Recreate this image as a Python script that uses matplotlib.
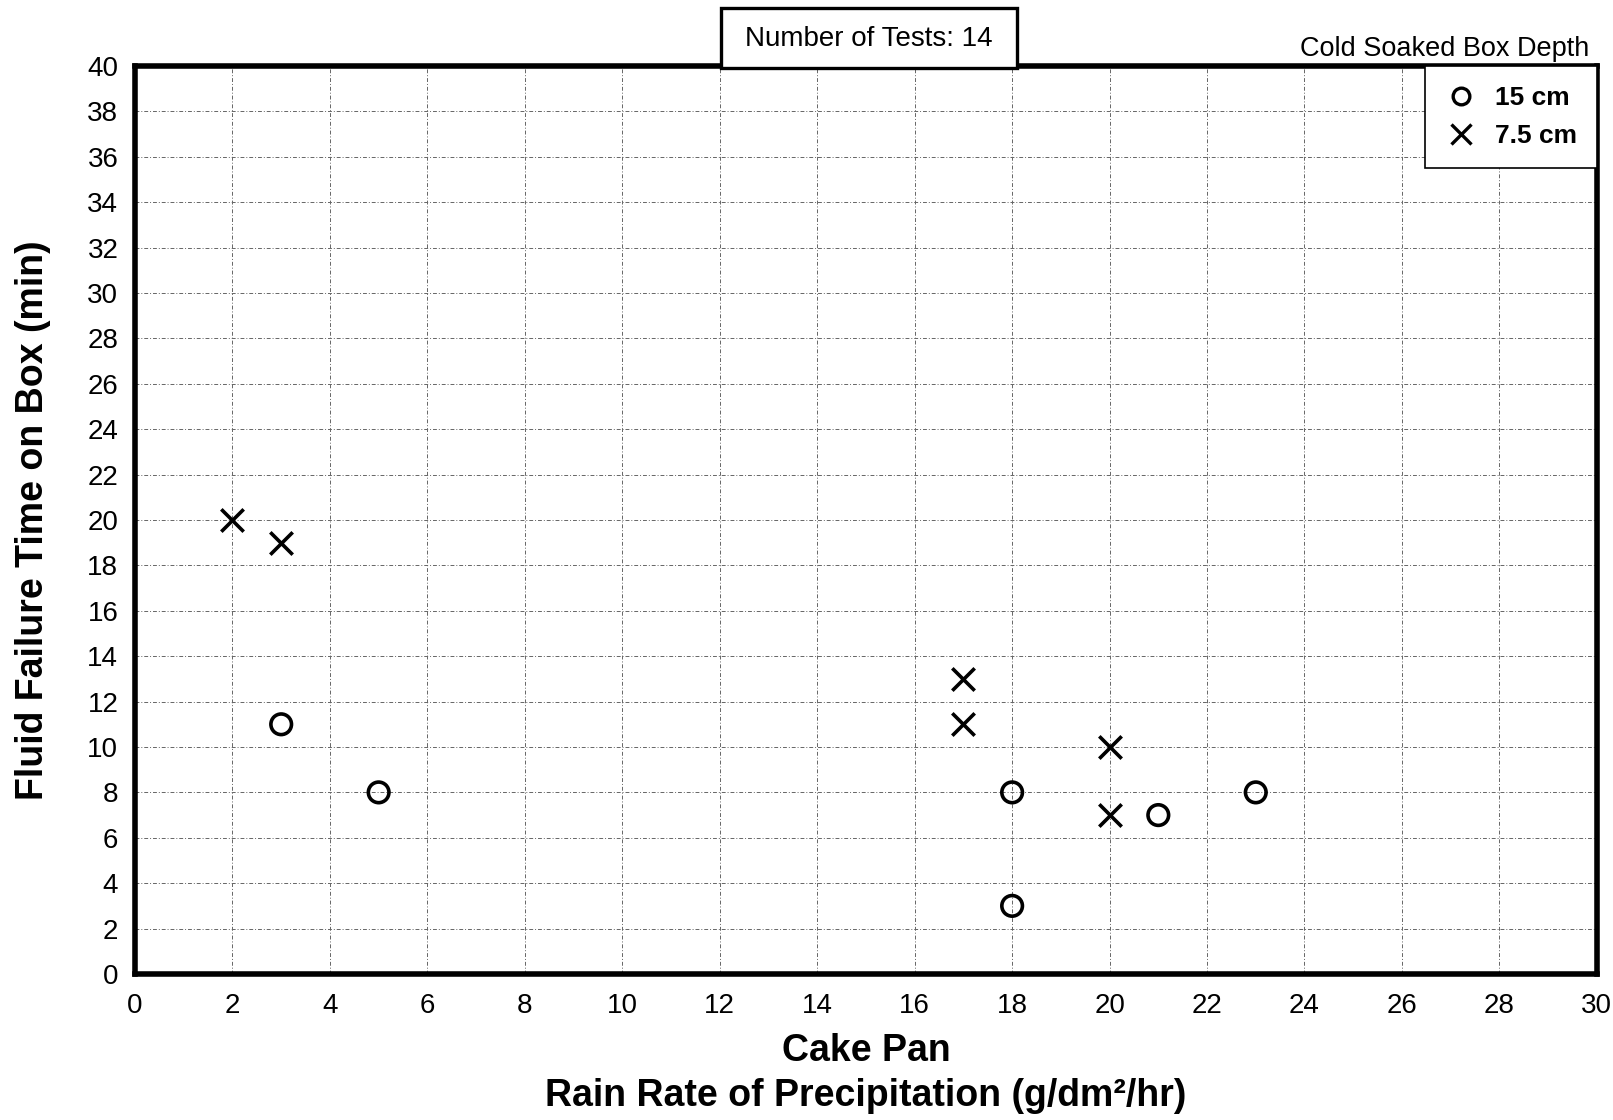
import matplotlib
matplotlib.use("Agg")
import matplotlib.pyplot as plt
from matplotlib.lines import Line2D
from matplotlib.patches import Rectangle

plt.rcParams['font.family'] = ['Liberation Sans', 'DejaVu Sans']

# Rain rate (g/dm²/hr) and fluid failure time (min) per box depth
rate_15cm = [3, 5, 18, 18, 21, 23]
time_15cm = [11, 8, 8, 3, 7, 8]
rate_75cm = [2, 3, 17, 17, 20, 20]
time_75cm = [20, 19, 13, 11, 10, 7]

x_ticks = list(range(0, 31, 2))
y_ticks = list(range(0, 41, 2))

fig = plt.figure(figsize=(16.13, 11.2), dpi=100)
ax = fig.add_axes([0.0837, 0.1304, 0.9063, 0.8106])

ax.scatter(rate_15cm, time_15cm, s=220, marker='o', facecolors='none',
           edgecolors='black', linewidths=2.6, zorder=3)
ax.scatter(rate_75cm, time_75cm, s=260, marker='x', color='black',
           linewidths=2.6, zorder=3)

ax.set_xlim(0, 30)
ax.set_ylim(0, 40)
ax.set_xticks(x_ticks)
ax.set_yticks(y_ticks)
ax.tick_params(axis='both', length=0, labelsize=20)
ax.tick_params(axis='x', pad=14)
ax.tick_params(axis='y', pad=12)
ax.grid(True, color='#666666', linestyle=(0, (4, 2, 1, 2)), linewidth=0.7)
ax.set_axisbelow(True)
for sp in ax.spines.values():
    sp.set_linewidth(4)

ax.set_xlabel('Cake Pan\nRain Rate of Precipitation (g/dm²/hr)',
              fontsize=27, fontweight='bold', labelpad=10, linespacing=1.3)
ax.set_ylabel('Fluid Failure Time on Box (min)', fontsize=27,
              fontweight='bold', labelpad=26)

# Test count header box sitting on the top spine
x0, x1 = 721 / 1613, 1017 / 1613
y0, y1 = 1 - 68 / 1120, 1 - 8 / 1120
fig.patches.append(Rectangle((x0, y0), x1 - x0, y1 - y0,
                             transform=fig.transFigure, facecolor='white',
                             edgecolor='black', linewidth=2.4, zorder=5))
fig.text((x0 + x1) / 2, (y0 + y1) / 2 - 0.001, 'Number of Tests: 14',
         fontsize=20, ha='center', va='center', zorder=6)

# Legend
handles = [
    Line2D([], [], marker='o', linestyle='none', markerfacecolor='none',
           markeredgecolor='black', markeredgewidth=2.4, markersize=12),
    Line2D([], [], marker='x', linestyle='none', color='black',
           markeredgewidth=2.4, markersize=14),
]
leg = ax.legend(handles, ['15 cm', '7.5 cm'], loc='upper right',
                prop={'size': 19, 'weight': 'bold'}, frameon=True,
                fancybox=False, framealpha=1, edgecolor='black',
                borderaxespad=0.0, handletextpad=0.7, labelspacing=0.55,
                borderpad=0.75, handlelength=1.2)
leg.get_frame().set_linewidth(1.2)
ax.text(0.995, 1.004, 'Cold Soaked Box Depth', transform=ax.transAxes,
        ha='right', va='bottom', fontsize=19.5)

fig.savefig('out.png', dpi=100)
